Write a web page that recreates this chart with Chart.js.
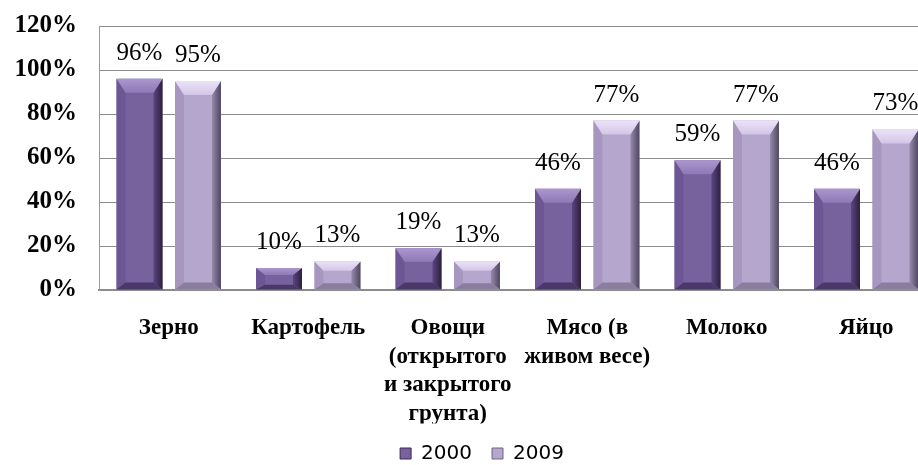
<!DOCTYPE html>
<html><head><meta charset="utf-8">
<script src="https://cdn.jsdelivr.net/npm/chart.js@4.4.1/dist/chart.umd.min.js"></script>
<style>
html,body{margin:0;padding:0;background:#fff;overflow:hidden;width:918px;height:465px;}
#wrap{position:absolute;left:0;top:0;width:964px;height:465px;}
canvas{display:block;}
</style></head><body>
<div id="wrap"><canvas id="c" width="964" height="465" style="width:964px;height:465px"></canvas></div>
<script>
const categories = ['Зерно', 'Картофель', ['Овощи', '(открытого', 'и закрытого', 'грунта)'], ['Мясо (в', 'живом весе)'], 'Молоко', 'Яйцо'];
const seriesNames = ['2000', '2009'];
const values2000 = [96, 10, 19, 46, 59, 46];
const values2009 = [95, 13, 13, 77, 77, 73];
const yTickLabels = ['0%', '20%', '40%', '60%', '80%', '100%', '120%'];

const palettes = [
  {face:'#78629e', top1:'#ab96cf', top2:'#8f79b6', left:'#6d5694', right1:'#5b4681', right2:'#2c203d', bottom:'#4a3868', stroke:'#3a2b52'},
  {face:'#b4a6cc', top1:'#ebe2f8', top2:'#d2c6e7', left:'#a797c0', right1:'#968aab', right2:'#4f4661', bottom:'#8a7e9e', stroke:'#6e6384'}
];

const bevelPlugin = {
  id: 'bevel',
  afterDatasetsDraw(chart) {
    const ctx = chart.ctx;
    chart.data.datasets.forEach((ds, di) => {
      const pal = palettes[di];
      const meta = chart.getDatasetMeta(di);
      meta.data.forEach(el => {
        const p = el.getProps(['x', 'y', 'base', 'width'], true);
        const L = p.x - p.width / 2, R = p.x + p.width / 2, T = Math.min(p.y, p.base), B = Math.max(p.y, p.base);
        const h = B - T;
        const s = Math.min(9, p.width * 0.2);
        const tb = Math.min(14, h * 0.33);
        const bb = Math.min(7, h * 0.22);
        ctx.save();
        ctx.beginPath(); ctx.moveTo(L, T); ctx.lineTo(L + s, T + tb); ctx.lineTo(L + s, B - bb); ctx.lineTo(L, B); ctx.closePath();
        ctx.fillStyle = pal.left; ctx.fill();
        let g = ctx.createLinearGradient(R - s, 0, R, 0);
        g.addColorStop(0, pal.right1); g.addColorStop(1, pal.right2);
        ctx.beginPath(); ctx.moveTo(R, T); ctx.lineTo(R - s, T + tb); ctx.lineTo(R - s, B - bb); ctx.lineTo(R, B); ctx.closePath();
        ctx.fillStyle = g; ctx.fill();
        ctx.beginPath(); ctx.moveTo(L, B); ctx.lineTo(R, B); ctx.lineTo(R - s, B - bb); ctx.lineTo(L + s, B - bb); ctx.closePath();
        ctx.fillStyle = pal.bottom; ctx.fill();
        g = ctx.createLinearGradient(0, T, 0, T + tb);
        g.addColorStop(0, pal.top1); g.addColorStop(1, pal.top2);
        ctx.beginPath(); ctx.moveTo(L, T); ctx.lineTo(R, T); ctx.lineTo(R - s, T + tb); ctx.lineTo(L + s, T + tb); ctx.closePath();
        ctx.fillStyle = g; ctx.fill();
        ctx.restore();
      });
    });
  }
};

const dataLabelPlugin = {
  id: 'dataLabels',
  afterDatasetsDraw(chart) {
    const ctx = chart.ctx;
    ctx.save();
    ctx.font = '25px "Liberation Serif"';
    ctx.fillStyle = '#000';
    ctx.textAlign = 'center';
    ctx.textBaseline = 'alphabetic';
    chart.data.datasets.forEach((ds, di) => {
      const meta = chart.getDatasetMeta(di);
      meta.data.forEach((el, i) => {
        ctx.fillText(ds.data[i] + '%', el.x, el.y - 19);
      });
    });
    ctx.restore();
  }
};

new Chart(document.getElementById('c'), {
  type: 'bar',
  data: {
    labels: categories,
    datasets: [
      {label: seriesNames[0], data: values2000, backgroundColor: palettes[0].face, borderWidth: 0},
      {label: seriesNames[1], data: values2009, backgroundColor: palettes[1].face, borderWidth: 0}
    ]
  },
  options: {
    responsive: false,
    animation: false,
    devicePixelRatio: 1,
    categoryPercentage: 0.838,
    barPercentage: 0.786,
    layout: {padding: {top: 26, left: 0, right: 0, bottom: -8.5}},
    scales: {
      x: {
        grid: {display: false, drawTicks: false},
        border: {display: true, color: '#8c8c8c', width: 2},
        ticks: {
          color: '#000',
          font: {family: '"Liberation Serif"', size: 23, weight: 'bold', lineHeight: '28.5px'},
          padding: 24,
          maxRotation: 0,
          autoSkip: false
        },
        afterFit(s) { s.height = 133.5; s.paddingLeft = 0; s.paddingRight = 0; }
      },
      y: {
        min: 0, max: 120,
        grid: {color: '#8c8c8c', lineWidth: 1, drawTicks: false},
        border: {display: true, color: '#9a9a9a', width: 1},
        ticks: {
          stepSize: 20,
          color: '#000',
          font: {family: '"Liberation Serif"', size: 25, weight: 'bold'},
          padding: 22,
          callback: (v) => yTickLabels[Math.round(v / 20)]
        },
        afterFit(s) { s.width = 99; s.paddingTop = 0; s.paddingBottom = 0; }
      },
      y2: {
        position: 'right',
        display: true,
        grid: {display: false, drawTicks: false},
        border: {display: false},
        ticks: {display: false},
        afterFit(s) { s.width = 28; s.paddingTop = 0; s.paddingBottom = 0; }
      }
    },
    plugins: {
      legend: {
        position: 'bottom',
        labels: {
          color: '#000',
          font: {family: '"DejaVu Sans"', size: 20},
          boxWidth: 11,
          boxHeight: 11,
          padding: 20,
          generateLabels(chart) {
            return chart.data.datasets.map((ds, i) => ({
              text: ds.label,
              fillStyle: palettes[i].face,
              strokeStyle: palettes[i].stroke,
              lineWidth: 1,
              hidden: false,
              datasetIndex: i,
              fontColor: '#000'
            }));
          }
        }
      },
      tooltip: {enabled: false}
    }
  },
  plugins: [bevelPlugin, dataLabelPlugin]
});
</script>
</body></html>
